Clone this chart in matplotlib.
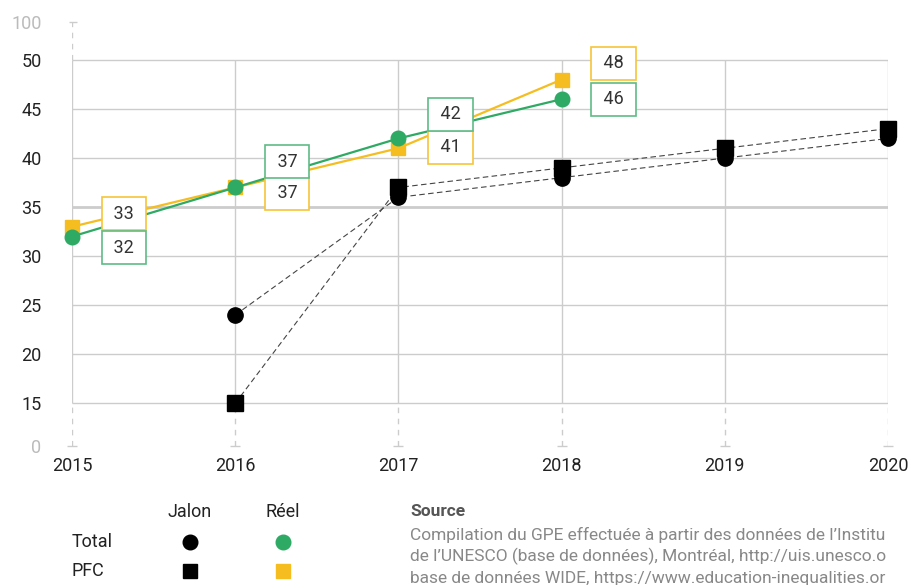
import numpy as np
import matplotlib
matplotlib.use("Agg")
import matplotlib.pyplot as plt
from matplotlib.lines import Line2D

plt.rcParams['font.family'] = ['Roboto', 'DejaVu Sans']

# ---- data ----
years = [2015, 2016, 2017, 2018, 2019, 2020]
jalon_years = [2016, 2017, 2018, 2019, 2020]
jalon_total = [24, 36, 38, 40, 42]
jalon_pfc = [15, 37, 39, 41, 43]
reel_years = [2015, 2016, 2017, 2018]
reel_total = [32, 37, 42, 46]
reel_pfc = [33, 37, 41, 48]
y_ticks = [0, 15, 20, 25, 30, 35, 40, 45, 50, 100]
x_labels = ['2015', '2016', '2017', '2018', '2019', '2020']

GREEN = '#2eaa64'
YELLOW = '#f5bd1f'
GREEN_BOX = '#5dbb85'
YELLOW_BOX = '#f6c53a'
GRID = '#cccccc'
FS = 13

W, H = 912, 585
fig = plt.figure(figsize=(W / 100, H / 100), dpi=100)

def fx(px):
    return px / W

def fy(py):
    return 1 - py / H

ax = fig.add_axes([fx(72), fy(446), fx(888) - fx(72), fy(22) - fy(446)])

# broken axis scale: 0-15 compressed, 15-50 linear, 50-100 compressed
LO = 4.35 / 15.0
HI = 3.87 / 50.0

def fwd(v):
    v = np.asarray(v, dtype=float)
    return np.where(v < 15, 15 - (15 - v) * LO, np.where(v > 50, 50 + (v - 50) * HI, v))

def inv(u):
    u = np.asarray(u, dtype=float)
    return np.where(u < 15, 15 - (15 - u) / LO, np.where(u > 50, 50 + (u - 50) / HI, u))

ax.set_yscale('function', functions=(fwd, inv))
ax.set_xlim(2015, 2020)
ax.set_ylim(0, 100)
for s in ax.spines.values():
    s.set_visible(False)

# grid
for yv in [15, 20, 25, 30, 35, 40, 45, 50]:
    ax.hlines(yv, 2015, 2020, color=GRID, lw=2.0 if yv == 35 else 1.0, zorder=1)
for xv in years:
    ax.vlines(xv, 15, 50, color=GRID, lw=1.0, zorder=1)
    ax.vlines(xv, 0, 15, color=GRID, lw=1.0, linestyles=(0, (4, 4)), zorder=1)
    ax.plot([xv], [0], marker='_', ms=7, mew=1.0, color=GRID, zorder=1, clip_on=False)
ax.vlines(2015, 50, 100, color=GRID, lw=1.0, linestyles=(0, (4, 4)), zorder=1)
ax.plot([2015.008], [100], marker='_', ms=6, mew=1.0, color=GRID, zorder=1, clip_on=False)

# ticks
ax.set_yticks(y_ticks)
ax.set_yticklabels([str(t) for t in y_ticks])
ax.set_xticks(years)
ax.set_xticklabels(x_labels)
ax.tick_params(axis='both', length=0, labelsize=FS, colors='#222222')
ax.tick_params(axis='y', pad=22)
ax.tick_params(axis='x', pad=8)
for lab in ax.get_yticklabels():
    lab.set_horizontalalignment('right')
    if lab.get_text() in ('0', '100'):
        lab.set_color('#bbbbbb')

# jalon lines
ax.plot(jalon_years, jalon_pfc, ls=(0, (5, 3)), lw=0.8, color='#444444',
        marker='s', ms=11, mfc='black', mec='black', zorder=3, clip_on=False)
ax.plot(jalon_years, jalon_total, ls=(0, (5, 3)), lw=0.8, color='#444444',
        marker='o', ms=11, mfc='black', mec='black', zorder=3, clip_on=False)

# reel lines
ax.plot(reel_years, reel_pfc, lw=1.6, color=YELLOW, marker='s', ms=10.5,
        mfc=YELLOW, mec=YELLOW, zorder=4, clip_on=False)
ax.plot(reel_years, reel_total, lw=1.6, color=GREEN, marker='o', ms=10.5,
        mfc=GREEN, mec=GREEN, zorder=5, clip_on=False)

# value labels (offsets in points)
pfc_off = [9.4, -4.3, 0.6, 11.7]
tot_off = [-7.9, 18.7, 17.3, 0.0]
for x, v, dy in zip(reel_years, reel_pfc, pfc_off):
    ax.annotate(f' {v} ', (x, v), xytext=(37.4, dy), textcoords='offset points',
                ha='center', va='center', fontsize=FS, color='#333333', zorder=6,
                bbox=dict(boxstyle='square,pad=0.42', fc='white', ec=YELLOW_BOX, lw=1.2))
for x, v, dy in zip(reel_years, reel_total, tot_off):
    ax.annotate(f' {v} ', (x, v), xytext=(37.4, dy), textcoords='offset points',
                ha='center', va='center', fontsize=FS, color='#333333', zorder=6,
                bbox=dict(boxstyle='square,pad=0.42', fc='white', ec=GREEN_BOX, lw=1.2))

# legend table
fig.text(fx(190), fy(512), 'Jalon', ha='center', va='center', fontsize=FS, color='#222222')
fig.text(fx(283), fy(512), 'Réel', ha='center', va='center', fontsize=FS, color='#222222')
fig.text(fx(72), fy(542), 'Total', ha='left', va='center', fontsize=FS, color='#222222')
fig.text(fx(72), fy(571), 'PFC', ha='left', va='center', fontsize=FS, color='#222222')
for (px, py, m, c) in [(190, 542, 'o', 'black'), (283, 542, 'o', GREEN),
                       (190, 571, 's', 'black'), (283, 571, 's', YELLOW)]:
    fig.add_artist(Line2D([fx(px)], [fy(py)], marker=m, ms=10.5, mfc=c, mec=c,
                          ls='none', transform=fig.transFigure))

# source (as visible in the reference, which is cut at the right edge)
fig.text(fx(410), fy(512), 'Source', ha='left', va='center', fontsize=12.5,
         color='#555555', fontweight='bold')
src = ["Compilation du GPE effectuée à partir des données de l’Institu",
       "de l’UNESCO (base de données), Montréal, http://uis.unesco.o",
       "base de données WIDE, https://www.education-inequalities.or"]
for i, line in enumerate(src):
    fig.text(fx(410), fy(535 + i * 21.5), line, ha='left', va='center', fontsize=12.5,
             color='#888888')

fig.savefig('out.png', dpi=100)
